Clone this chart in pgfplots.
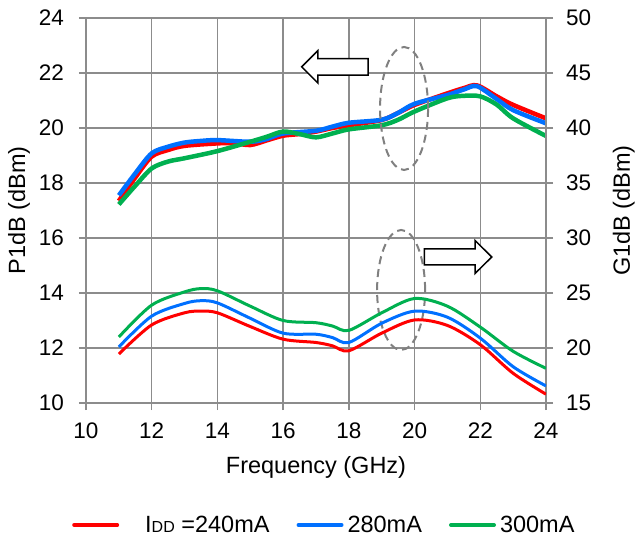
\documentclass[border=0pt]{standalone}
\usepackage{fontspec}
\setmainfont{Liberation Sans}
\usepackage{pgfplots}
\pgfplotsset{compat=1.18}
\newcommand\fs{\fontsize{22.5}{26}\selectfont}
\newcommand\fl{\fontsize{23.5}{27}\selectfont}
\definecolor{cred}{RGB}{255,0,0}
\definecolor{cblue}{RGB}{0,112,255}
\definecolor{cgreen}{RGB}{0,176,80}
\definecolor{gridgray}{RGB}{140,140,140}
\definecolor{dashgray}{RGB}{128,128,128}
\pgfplotsset{
  common/.style={
    scale only axis, width=460pt, height=385pt,
    xmin=10, xmax=24,
    /pgf/number format/assume math mode=true,
    tick label style={font=\fs},
    label style={font=\fl},
    tick align=outside,
    major tick length=7pt,
    every tick/.style={gridgray, line width=1.5pt},
    axis line style={gridgray, line width=1.5pt},
  }
}
\begin{document}
\begin{tikzpicture}
\path[use as bounding box] (-86pt,-135pt) rectangle (549pt,403pt);
\begin{axis}[common,
  ymin=10, ymax=24,
  xtick={10,12,...,24}, ytick={10,12,...,24},
  xtick pos=bottom, ytick pos=left,
  grid=major,
  major grid style={gridgray, line width=1.5pt},
  yticklabel style={anchor=east, inner sep=0pt, xshift=-15pt},
  xticklabel style={anchor=north, inner sep=0pt, yshift=-13pt},
  xlabel={Frequency (GHz)},
  ylabel={P1dB (dBm)},
  xlabel style={at={(axis description cs:0.5,-71/385)}, anchor=base},
  ylabel style={at={(axis description cs:-61/460,0.5)}, anchor=base, rotate=0},
]
\addplot[cred, line width=4.5pt, smooth, tension=0.5] coordinates {
(11,17.35) (11.5,18.2) (12,18.96) (12.5,19.2) (13,19.35) (14,19.44) (14.5,19.45)
(15,19.38) (15.5,19.55) (16,19.72) (16.5,19.78) (17,19.87) (17.5,20.0) (18,20.1)
(19,20.29) (19.5,20.55) (20,20.84) (21,21.26) (21.5,21.45) (21.9,21.55) (22.5,21.15)
(23,20.84) (24,20.35)};
\addplot[cblue, line width=4.5pt, smooth, tension=0.5] coordinates {
(11,17.55) (11.5,18.35) (12,19.08) (12.5,19.32) (13,19.47) (13.5,19.53) (14,19.56)
(15,19.5) (15.5,19.6) (16,19.8) (17,19.9) (17.5,20.05) (18,20.19) (19,20.3)
(19.5,20.55) (20,20.88) (21,21.2) (21.5,21.4) (21.9,21.52) (22.5,21.05) (23,20.65) (24,20.17)};
\addplot[cgreen, line width=4.5pt, smooth, tension=0.5] coordinates {
(11,17.22) (11.5,17.9) (12,18.53) (12.5,18.78) (13,18.9) (14,19.16) (15,19.5)
(15.5,19.68) (16,19.87) (16.5,19.78) (17,19.66) (17.5,19.8) (18,19.95) (19,20.1)
(19.5,20.3) (20,20.6) (21,21.08) (21.5,21.17) (22,21.15) (22.5,20.85) (23,20.35) (24,19.71)};
% annotations
\draw[dashgray, line width=2pt, dash pattern=on 8pt off 5pt] (axis cs:19.68,20.71) ellipse [x radius=24pt, y radius=61.5pt];
\draw[dashgray, line width=2pt, dash pattern=on 8pt off 5pt] (axis cs:19.59,14.11) ellipse [x radius=24pt, y radius=60pt];
\draw[black, fill=white, line width=1.5pt] (axis cs:16.565,22.225) -- (axis cs:17.06,22.815) -- (axis cs:17.06,22.525) -- (axis cs:18.59,22.525) -- (axis cs:18.59,21.925) -- (axis cs:17.06,21.925) -- (axis cs:17.06,21.635) -- cycle;
\draw[black, fill=white, line width=1.5pt] (axis cs:20.296,15.6) -- (axis cs:21.84,15.6) -- (axis cs:21.84,15.91) -- (axis cs:22.35,15.31) -- (axis cs:21.84,14.71) -- (axis cs:21.84,15.02) -- (axis cs:20.296,15.02) -- cycle;
\end{axis}
\begin{axis}[common,
  ymin=15, ymax=50, ytick={15,20,...,50},
  hide x axis,
  axis y line*=right,
  yticklabel style={anchor=west, inner sep=0pt, xshift=13pt},
  ylabel={G1dB (dBm)},
  ylabel style={at={(axis description cs:544/460,0.5)}, anchor=base, rotate=0},
  legend columns=3,
  legend style={at={(axis description cs:-14/460,-122/385)}, anchor=west, draw=none, fill=none, inner sep=0pt,
    nodes={inner sep=0pt, font=\fl},
    /tikz/every odd column/.append style={column sep=4pt},
    /tikz/every even column/.append style={column sep=27pt}},
  legend image code/.code={\draw[#1, line width=4pt, line cap=round] (2pt,0pt) -- (45pt,0pt);},
]
\addplot[cred, line width=3pt, smooth, tension=0.5] coordinates {
(11,19.45) (12,22.1) (13,23.2) (13.5,23.35) (14,23.2) (15,21.95) (16,20.8) (17,20.5)
(17.5,20.2) (18,19.75) (19,21.35) (20,22.55) (21,22.05) (22,20.3) (23,17.7) (24,15.8)};
\addlegendentry{\hspace{22pt}I{\fontsize{16}{16}\selectfont DD} =240mA}
\addplot[cblue, line width=3pt, smooth, tension=0.5] coordinates {
(11,20.1) (12,22.9) (13,24.05) (13.5,24.3) (14,24.1) (15,22.7) (16,21.35) (17,21.25)
(17.5,20.95) (18,20.5) (19,22.25) (20,23.35) (21,22.8) (22,20.9) (23,18.3) (24,16.55)};
\addlegendentry{280mA}
\addplot[cgreen, line width=3pt, smooth, tension=0.5] coordinates {
(11,21.0) (12,23.9) (13,25.1) (13.5,25.4) (14,25.2) (15,23.8) (16,22.5) (17,22.3)
(17.5,22.0) (18,21.6) (19,23.2) (20,24.5) (21,23.8) (22,21.9) (23,19.7) (24,18.15)};
\addlegendentry{300mA}
\end{axis}
\end{tikzpicture}
\end{document}
